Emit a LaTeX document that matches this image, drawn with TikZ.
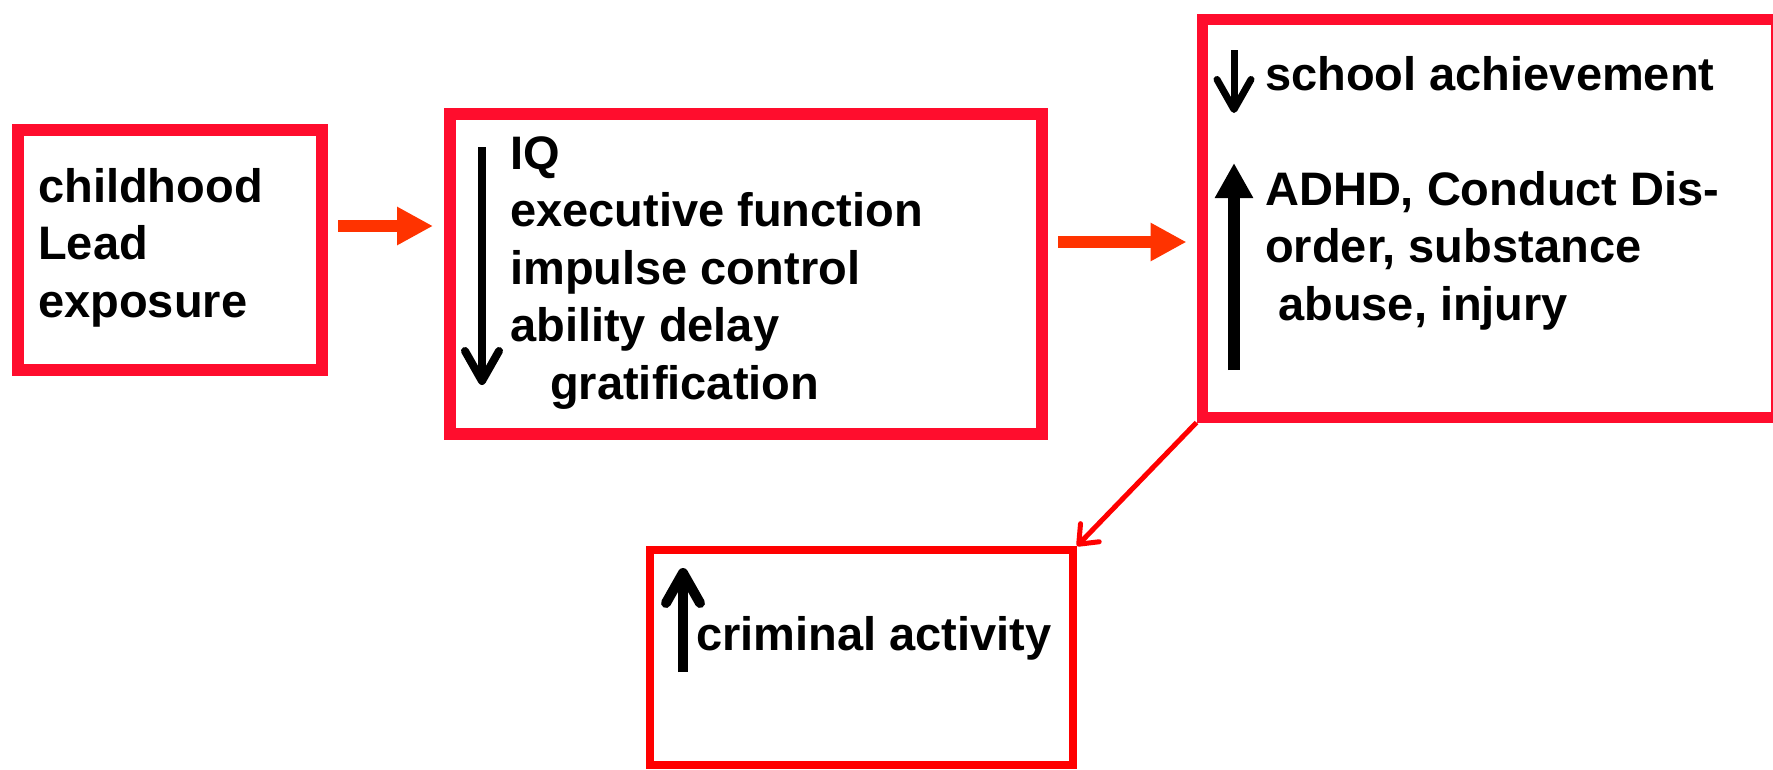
\documentclass[tikz,border=0pt]{standalone}
\usepackage{fontspec}
\setmainfont{Liberation Sans}
\definecolor{boxColor}{HTML}{FF0D2D}
\definecolor{flowColor}{HTML}{FF3300}
\definecolor{crimeColor}{HTML}{FF0000}
\usetikzlibrary{arrows.meta, positioning, shadows}
\tikzset{
    boxNode/.style = {rectangle, draw=boxColor, line width=12pt, fill=white, inner sep=0pt},
    crimeNode/.style = {boxNode, draw=crimeColor, line width=8pt, drop shadow={shadow xshift=2pt, shadow yshift=-2pt, opacity=0.3}},
    labelNode/.style = {align=left, inner sep=0pt, font=\bfseries\fontsize{47pt}{57.5pt}\selectfont},
    flowPath/.style = {-{Triangle[length=36pt, width=36pt]}, color=flowColor, line width=12pt},
    crimePath/.style = {-{Straight Barb[length=16pt, width=26pt, round]}, color=crimeColor, line width=5pt},
    barbPath/.style = {-{Straight Barb[length=30pt, width=34pt, round]}, line width=8pt},
    boldPath/.style = {-{Triangle[length=35pt, width=36pt]}, line width=12pt}
}

\begin{document}
\begin{tikzpicture}[x=1pt, y=-1pt]
    \useasboundingbox (0,0) rectangle (1773,769);
    % boxes
    \node(lead)[boxNode, minimum width=304pt, minimum height=240pt] at (170,250) {};
    \node(brain)[boxNode, minimum width=592pt, minimum height=320pt] at (746,274) {};
    \node(effects)[boxNode, line width=11pt, minimum width=574pt, minimum height=398pt] at (1489,218) {};
    \node(crime)[crimeNode, minimum width=423pt, minimum height=215pt] at (861.5,657.5) {};
    % texts
    \node(leadText)[labelNode, below right=44pt and 26pt of lead.north west]{childhood\\Lead\\exposure};
    \node(brainText)[labelNode, below right=28pt and 66pt of brain.north west]{IQ\\executive function\\impulse control\\ability delay\\\hspace*{40pt}gratification};
    \node(effectsText)[labelNode, below right=42.5pt and 68.5pt of effects.north west]{school achievement\\[57.5pt]ADHD, Conduct Dis-\\order, substance\\\hspace*{13pt}abuse, injury};
    \node(crimeText)[labelNode, below right=70pt and 50pt of crime.north west]{criminal activity};
    % up and down marks
    \coordinate(brainDownTop) at (482,147);
    \coordinate(brainDownEnd) at (482,385);
    \coordinate(schoolDownTop) at (1234,50);
    \coordinate(schoolDownEnd) at (1234,113);
    \coordinate(adhdUpBottom) at (1234,370);
    \coordinate(adhdUpEnd) at (1234,163);
    \coordinate(crimeUpBottom) at (683,672);
    \coordinate(crimeUpEnd) at (683,568);
    \draw[barbPath] (brainDownTop) -- (brainDownEnd);
    \draw[barbPath, line width=7pt] (schoolDownTop) -- (schoolDownEnd);
    \draw[boldPath] (adhdUpBottom) -- (adhdUpEnd);
    \draw[barbPath, line width=10pt] (crimeUpBottom) -- (crimeUpEnd);
    % connectors
    \draw[flowPath, shorten <=10pt, shorten >=11pt] ([yshift=24pt]lead.east) -- ([yshift=48pt]brain.west);
    \draw[flowPath, shorten <=10pt, shorten >=10pt] ([yshift=32pt]brain.east) -- ([yshift=-24pt]effects.west);
    \draw[crimePath] (effects.south west) -- (crime.north east);
\end{tikzpicture}
\end{document}
